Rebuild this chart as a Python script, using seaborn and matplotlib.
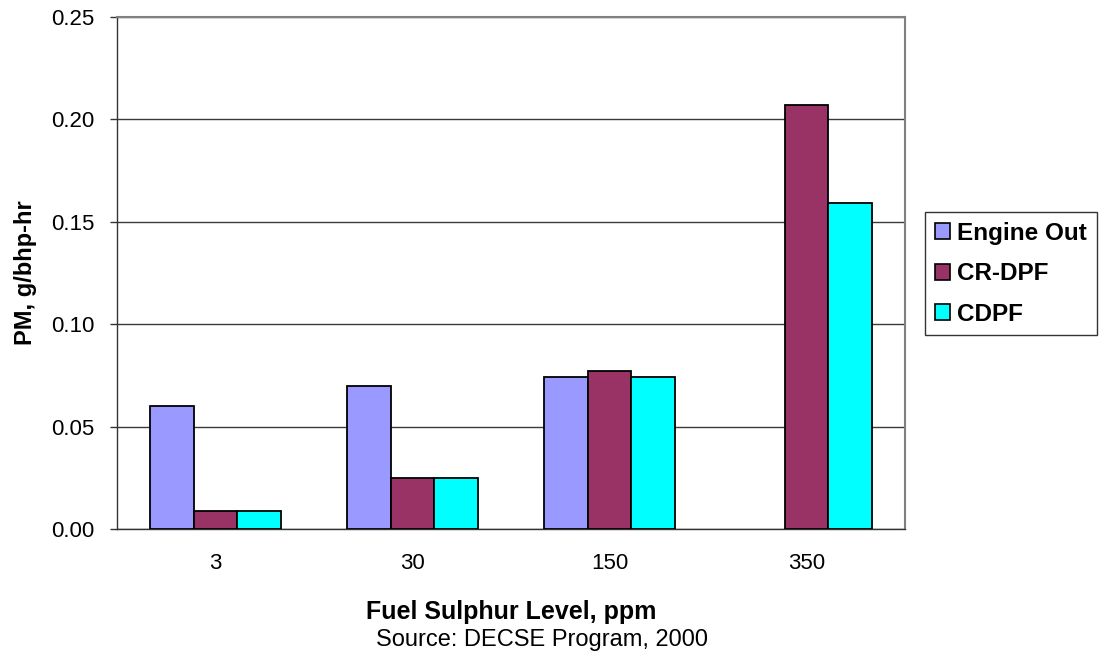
import numpy as np
import pandas as pd
import matplotlib
matplotlib.use("Agg")
import matplotlib.pyplot as plt
from matplotlib.ticker import FixedLocator, FormatStrFormatter
import seaborn as sns

# Fuel sulphur levels (ppm) and PM emissions (g/bhp-hr) per configuration
sulphur_levels = ["3", "30", "150", "350"]
engine_out = [0.060, 0.070, 0.074, np.nan]
cr_dpf = [0.009, 0.025, 0.077, 0.207]
cdpf = [0.009, 0.025, 0.074, 0.159]
series_names = ["Engine Out", "CR-DPF", "CDPF"]
series_colors = ["#9999FF", "#993366", "#00FFFF"]

df = pd.DataFrame({
    "level": sulphur_levels * 3,
    "pm": engine_out + cr_dpf + cdpf,
    "config": [n for n in series_names for _ in sulphur_levels],
})

sns.set_style("white")
plt.rcParams["font.family"] = ["Liberation Sans", "DejaVu Sans"]
plt.rcParams["text.color"] = "black"
plt.rcParams["axes.labelcolor"] = "black"
plt.rcParams["xtick.color"] = "black"
plt.rcParams["ytick.color"] = "black"

W, H = 1099, 660
fig = plt.figure(figsize=(W / 100, H / 100), dpi=100)
ax = fig.add_axes([117 / W, 1 - 529 / H, (905 - 117) / W, (529 - 17) / H])

sns.barplot(data=df, x="level", y="pm", hue="config", order=sulphur_levels,
            hue_order=series_names, palette=series_colors, saturation=1,
            errorbar=None, width=2 / 3, gap=0, edgecolor="black", linewidth=1.3,
            legend=False, ax=ax, zorder=3)

ax.set_xlim(-0.5, len(sulphur_levels) - 0.5)
ax.set_ylim(0, 0.25)
ax.yaxis.set_major_locator(FixedLocator([0, 0.05, 0.10, 0.15, 0.20, 0.25]))
ax.yaxis.set_major_formatter(FormatStrFormatter("%.2f"))
ax.grid(axis="y", color="#3a3a3a", linewidth=1.0, zorder=0)
ax.set_axisbelow(True)

# category boundary tick marks, labels centred between them
ax.xaxis.set_minor_locator(FixedLocator(np.arange(-0.5, len(sulphur_levels), 1.0)))
ax.tick_params(axis="x", which="major", length=0, pad=17, labelsize=16)
ax.tick_params(axis="x", which="minor", length=6, width=1, direction="out", color="#333333")
ax.tick_params(axis="y", which="major", length=5, width=1, direction="out",
               pad=11, labelsize=16, color="#333333", left=True)

for side in ("left", "bottom"):
    ax.spines[side].set_color("#333333")
    ax.spines[side].set_linewidth(1.0)
for side in ("top", "right"):
    ax.spines[side].set_visible(True)
    ax.spines[side].set_color("#808080")
    ax.spines[side].set_linewidth(1.5)

ax.set_xlabel("Fuel Sulphur Level, ppm", fontsize=18, fontweight="bold")
ax.xaxis.set_label_coords(0.5, -(612 - 529) / 512)
ax.xaxis.label.set_va("center")
ax.set_ylabel("PM, g/bhp-hr", fontsize=17, fontweight="bold")
ax.yaxis.set_label_coords((25 - 117) / 788, (529 - 273) / 512)
ax.yaxis.label.set_va("center")

fig.text(542 / W, 1 - 640 / H, "Source: DECSE Program, 2000",
         ha="center", va="center", fontsize=17)

handles = [plt.Rectangle((0, 0), 1, 1, facecolor=c, edgecolor="black", linewidth=1.2)
           for c in series_colors]
leg = fig.legend(handles, series_names, loc="upper left",
                 bbox_to_anchor=(925 / W, 1 - 212 / H),
                 prop={"size": 17.5, "weight": "bold"}, frameon=True, fancybox=False,
                 handlelength=0.62, handleheight=0.62, handletextpad=0.3,
                 labelspacing=0.72, borderpad=0.4, borderaxespad=0)
leg.get_frame().set_edgecolor("black")
leg.get_frame().set_linewidth(1.0)

fig.savefig("out.png", dpi=100)
